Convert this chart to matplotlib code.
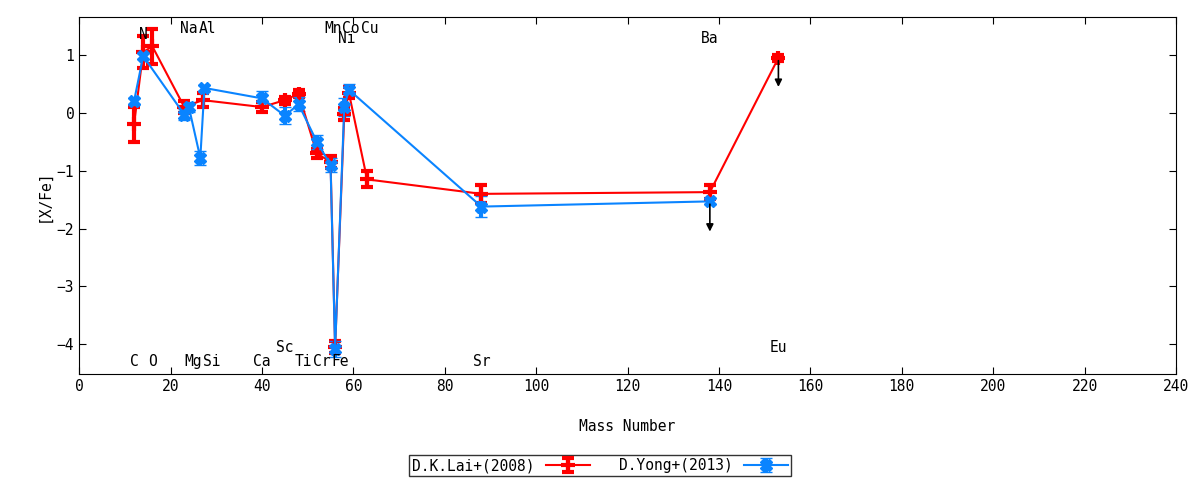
import matplotlib
matplotlib.use("Agg")
import matplotlib.pyplot as plt

plt.rcParams["font.family"] = "DejaVu Sans Mono"
plt.rcParams["font.size"] = 10.5

# D.K.Lai+(2008)
lai_x = [12, 14, 16, 23, 27, 40, 45, 48, 52, 55, 56, 58, 59, 63, 88, 138, 153]
lai_y = [-0.2, 1.05, 1.15, 0.1, 0.22, 0.1, 0.22, 0.33, -0.7, -0.85, -4.05, -0.02, 0.35, -1.15, -1.4, -1.37, 0.95]
lai_err = [0.3, 0.28, 0.3, 0.1, 0.12, 0.08, 0.06, 0.06, 0.08, 0.1, 0.1, 0.1, 0.1, 0.14, 0.15, 0.12, 0.05]

# D.Yong+(2013)
yong_x = [12, 14, 23, 24, 26.5, 27.4, 40, 45, 48, 52, 55, 56, 58, 59, 88, 138]
yong_y = [0.2, 0.98, -0.03, 0.1, -0.78, 0.43, 0.25, -0.05, 0.15, -0.5, -0.9, -4.08, 0.1, 0.4, -1.62, -1.53]
yong_err = [0.06, 0.05, 0.1, 0.08, 0.12, 0.05, 0.12, 0.15, 0.12, 0.12, 0.12, 0.14, 0.15, 0.1, 0.18, 0.05]

# element labels (text, mass, y)
labels = [("C", 12, -4.3), ("N", 14, 1.35), ("O", 16, -4.3), ("Na", 24, 1.45), ("Mg", 25, -4.3),
          ("Al", 28, 1.45), ("Si", 29, -4.3), ("Ca", 40, -4.3), ("Sc", 45, -4.05),
          ("Ti", 49, -4.3), ("Cr", 53, -4.3), ("Fe", 57, -4.3), ("Mn", 55.5, 1.45),
          ("Co", 59.5, 1.45), ("Ni", 58.5, 1.28), ("Cu", 63.5, 1.45), ("Sr", 88, -4.3),
          ("Ba", 138, 1.28), ("Eu", 153, -4.05)]

fig, ax = plt.subplots(figsize=(12, 4.8), dpi=100)
fig.subplots_adjust(left=0.066, right=0.98, top=0.965, bottom=0.22)

ax.errorbar(lai_x, lai_y, yerr=lai_err, color="#ff0000", lw=1.5, elinewidth=3,
            capsize=4, capthick=3, marker="+", ms=10, mew=3, label="D.K.Lai+(2008)")
ax.errorbar(yong_x, yong_y, yerr=yong_err, color="#0a84ff", lw=1.5, elinewidth=3,
            capsize=4, capthick=3, marker="X", ms=9, mew=1, label="D.Yong+(2013)")

# upper limits
ax.annotate("", xy=(138, -2.1), xytext=(138, -1.53),
            arrowprops=dict(arrowstyle="-|>", color="black", lw=1.2))
ax.annotate("", xy=(153, 0.4), xytext=(153, 0.95),
            arrowprops=dict(arrowstyle="-|>", color="black", lw=1.2))

for t, x, y in labels:
    ax.text(x, y, t, ha="center", va="center", fontsize=10.5)

ax.set_xlim(0, 240)
ax.set_ylim(-4.52, 1.66)
ax.set_xticks(range(0, 241, 20))
ax.set_yticks(range(-4, 2))
ax.tick_params(direction="in", top=True, right=True, length=5)
ax.set_xlabel("Mass Number", labelpad=18)
ax.set_ylabel("[X/Fe]")

fig.legend(loc="center", bbox_to_anchor=(0.5, 0.03), ncol=2,
           frameon=True, fancybox=False, edgecolor="black",
           markerfirst=False, handlelength=3, borderpad=0.2, columnspacing=2)

fig.savefig("out.png", dpi=100, facecolor="white")
